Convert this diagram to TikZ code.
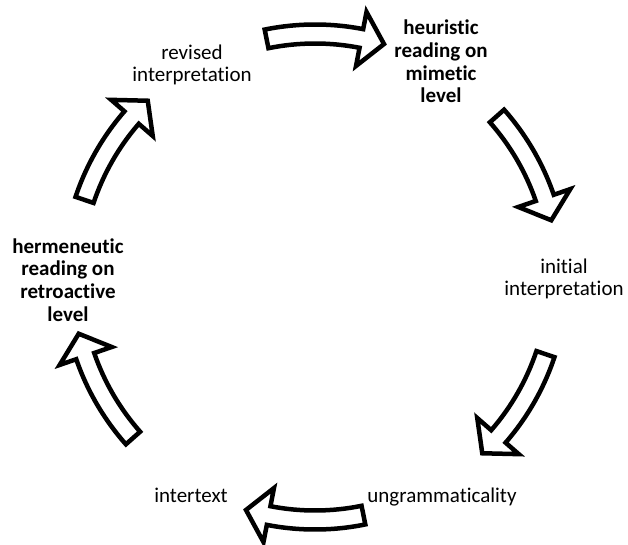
\documentclass[tikz,border=0pt]{standalone}
\usepackage{fontspec}
\setmainfont{Carlito}[Ligatures=NoCommon]
\begin{document}
\begin{tikzpicture}[x=1pt,y=1pt,
  steplabel/.style={align=center, inner sep=0pt, text=black,
    font=\fontsize{21}{22.7}\selectfont},
  keylabel/.style={steplabel, font=\fontsize{21}{22.7}\selectfont\bfseries},
  cyclearrow/.style={draw=black, fill=white, line width=4.5pt, line join=miter}]
\useasboundingbox (-315,-267) rectangle (313,277);

% the six stages of the reading cycle
\node[steplabel] (revised)   at (-123,212)  {revised\\interpretation};
\node[keylabel]  (heuristic) at (126,215.5) {heuristic\\reading on\\mimetic\\level};
\node[steplabel] (initial)   at (249,-2)    {initial\\interpretation};
\node[steplabel] (ungram)    at (127,-220)  {ungrammaticality};
\node[steplabel] (intertext) at (-124,-218) {intertext};
\node[keylabel]  (hermen)    at (-247,-3)   {hermeneutic\\reading on\\retroactive\\level};

% curved block arrows running clockwise round the circle
\def\Rmid{243}
\foreach \t in {90,30,-30,-90,-150,150} {
  \pgfmathsetmacro\aTail{\t+11.5}
  \pgfmathsetmacro\aBase{\t-11}
  \pgfmathsetmacro\aTip{\t-16.5}
  \draw[cyclearrow]
    (\aTail:252.5) arc[start angle=\aTail, end angle=\aBase, radius=252.5]
    -- (\aBase:270) -- (\aTip:\Rmid) -- (\aBase:215)
    -- (\aBase:233.5) arc[start angle=\aBase, end angle=\aTail, radius=233.5]
    -- cycle;
}
\end{tikzpicture}
\end{document}
